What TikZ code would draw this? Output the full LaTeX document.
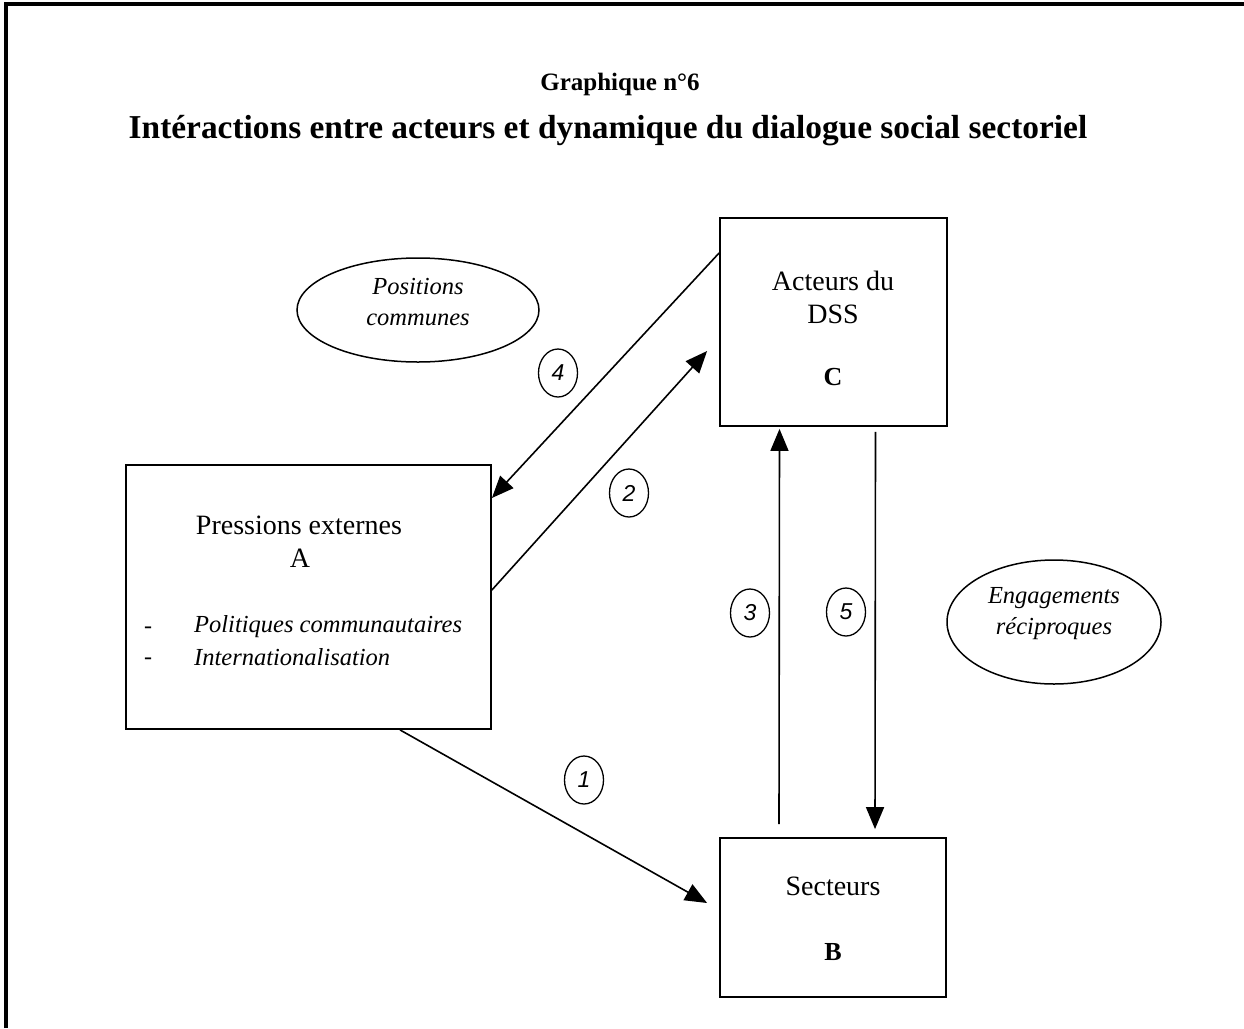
\documentclass[tikz,border=0pt]{standalone}
\usepackage{fontspec}
\setmainfont{Liberation Serif}
\setsansfont{Liberation Sans}
\usetikzlibrary{arrows.meta,shapes.geometric,calc}
\tikzset{
  box/.style={draw, line width=1.8pt, inner sep=0pt},
  bubble/.style={draw, ellipse, line width=1.5pt, inner sep=0pt},
  num/.style={draw, ellipse, line width=1.3pt, inner sep=0pt, minimum width=39pt, minimum height=48pt, font=\fontsize{23}{23}\selectfont\sffamily\itshape},
  txt/.style={inner sep=0pt, align=center, font=\fontsize{28}{33}\selectfont},
  itxt/.style={inner sep=0pt, align=center, font=\fontsize{24.5}{31}\selectfont\itshape},
  conn/.style={line width=1.6pt, -{Triangle[length=22pt,width=18pt]}},
}
\begin{document}
\begin{tikzpicture}[x=1pt,y=-1pt]
\useasboundingbox (0,0) rectangle (1244,1028);
% frame
\draw[line width=4pt] (6,1028) -- (6,4) -- (1244,4);
% titles
\node[inner sep=0pt, font=\fontsize{25}{25}\selectfont\bfseries] (t1) at (620,84) {Graphique n°6};
\node[inner sep=0pt, font=\fontsize{33.4}{36}\selectfont\bfseries] (t2) at (608,131) {Intéractions entre acteurs et dynamique du dialogue social sectoriel};
% boxes
\node[box, minimum width=227pt, minimum height=208pt] (C) at (833.5,322) {};
\node[box, minimum width=226pt, minimum height=159pt] (B) at (833,917.5) {};
\node[box, minimum width=365pt, minimum height=264pt] (A) at (308.5,597) {};
% box texts
\node[txt] (ct) at (833,297) {Acteurs du\\DSS};
\node[txt, font=\fontsize{26}{30}\selectfont\bfseries] (cl) at (833,377) {C};
\node[txt] (bt) at (833,886) {Secteurs};
\node[txt, font=\fontsize{26}{30}\selectfont\bfseries] (bl) at (833,952) {B};
\node[txt] (at) at (299,525) {Pressions externes};
\node[txt] (al) at (300,558) {A};
\node[txt, anchor=west, font=\fontsize{24}{30}\selectfont] (d1) at (144,630) {-};
\node[txt, anchor=west, font=\fontsize{24}{30}\selectfont] (d2) at (144,661) {-};
\node[itxt, anchor=west] (p1) at (194,627) {Politiques communautaires};
\node[itxt, anchor=west] (p2) at (194,657) {Internationalisation};
% bubbles
\node[bubble, minimum width=242pt, minimum height=104pt] (pos) at (418,310) {};
\node[itxt] (post) at (418,302) {Positions\\communes};
\node[bubble, minimum width=214pt, minimum height=124pt] (eng) at (1054,622) {};
\node[itxt] (engt) at (1054,614) {Engagements\\réciproques};
% connectors
\draw[conn] ([yshift=69pt]C.west) -- ([yshift=99pt]A.east);
\draw[conn] ([yshift=7pt]A.east) -- ([xshift=-12pt,yshift=-29pt]C.west);
\draw[conn] ([xshift=91.5pt]A.south) -- ([xshift=-12pt,yshift=14.5pt]B.west);
\draw[conn] ([xshift=-54pt,yshift=13pt]B.north) -- ([xshift=-54pt,yshift=-2pt]C.south);
\draw[conn] ([xshift=42pt,yshift=-5pt]C.south) -- ([xshift=42pt,yshift=8pt]B.north);
% numbers
\node[num] (n4) at (558,373) {4};
\node[num] (n2) at (629,493) {2};
\node[num] (n3) at (750,613) {3};
\node[num] (n5) at (846,612) {5};
\node[num] (n1) at (584,780) {1};
\end{tikzpicture}
\end{document}
